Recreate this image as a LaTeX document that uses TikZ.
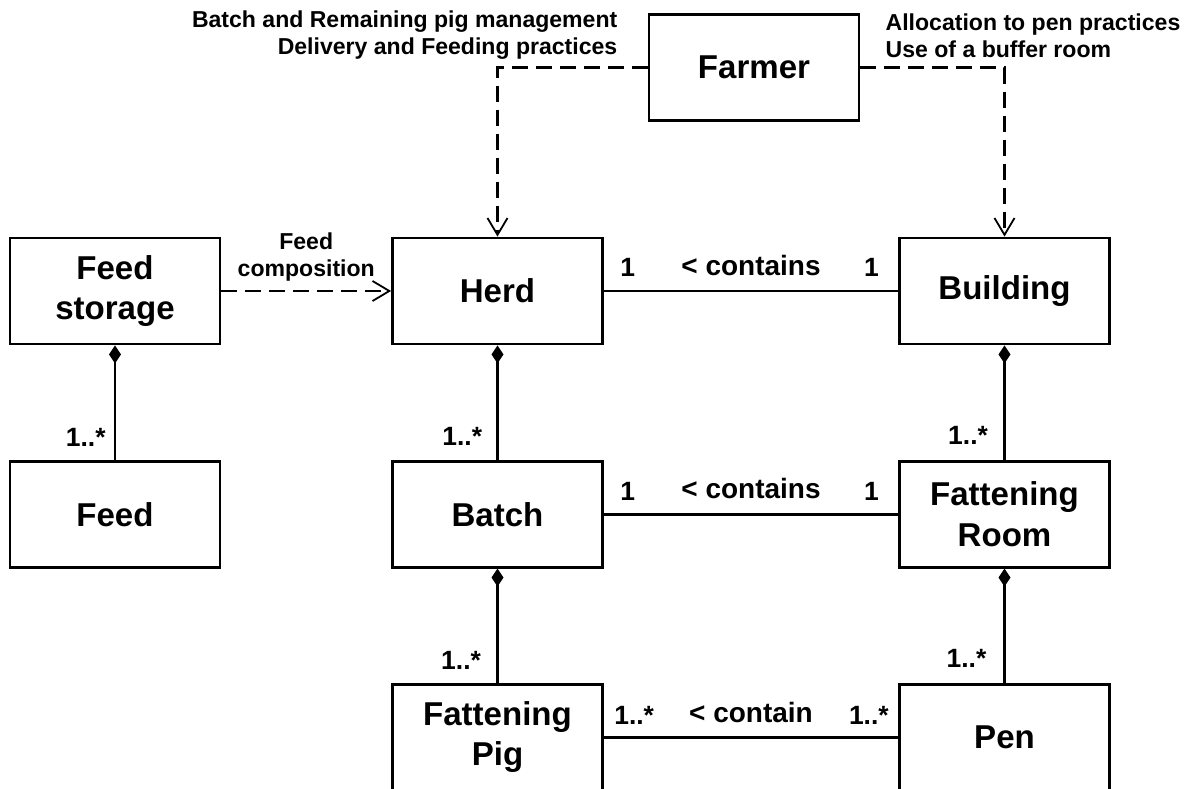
\documentclass[tikz,border=0pt]{standalone}
\usepackage{fontspec}
\setmainfont{Liberation Sans}
\usepackage{tikz}
\usetikzlibrary{arrows.meta}
\usetikzlibrary{calc}
\tikzstyle{classbox} = [rectangle, minimum width=5.25cm, minimum height=2.65cm, text centered, align=center, draw=black, line width=0.07cm, font=\bfseries\fontsize{23.5}{28.5}\selectfont]
\tikzstyle{note} = [inner sep=0pt, font=\bfseries\fontsize{16.4}{19.2}\selectfont]
\tikzstyle{mult} = [inner sep=0pt, font=\bfseries\fontsize{18.8}{22}\selectfont]
\tikzstyle{role} = [inner sep=0pt, font=\bfseries\fontsize{19.9}{24}\selectfont]
\tikzstyle{assoc} = [line width=0.07cm]
\tikzstyle{dep} = [line width=0.07cm, dash pattern=on 0.4cm off 0.2cm, -{Straight Barb[length=0.42cm,width=0.5cm,line width=0.045cm]}]
\tikzstyle{compo} = [line width=0.07cm, {Diamond[length=0.45cm,width=0.3cm]}-]

\begin{document}
\begin{tikzpicture}[node distance=5.58cm]
	\useasboundingbox (-12.4375,-12.45) rectangle (17.3625,7.275);
	\clip (-12.4375,-12.45) rectangle (17.3625,7.275);
	\node (herd) [classbox] {Herd};
	\node (farmer) [classbox, above of=herd, xshift=6.4125cm] {Farmer};
	\node (building) [classbox, right of=herd, xshift=7.095cm] {Building};
	\node (feedstore) [classbox, left of=herd, xshift=-3.9825cm] {Feed\\storage};
	\node (feed) [classbox, below of=feedstore] {Feed};
	\node (batch) [classbox, below of=herd] {Batch};
	\node (room) [classbox, below of=building] {Fattening\\Room};
	\node (pig) [classbox, below of=batch] {Fattening\\Pig};
	\node (pen) [classbox, below of=room] {Pen};
	\node (mgmtnote) [note, align=right, anchor=east] at ($(farmer.west)+(-0.75,0.81)$) {Batch and Remaining pig management\\Delivery and Feeding practices};
	\node (pennote) [note, align=left, anchor=west] at ($(farmer.east)+(0.625,0.81)$) {Allocation to pen practices\\Use of a buffer room};
	%lines
	\draw [dep] (farmer.west) -| (herd.north);
	\draw [dep] (farmer.east) -| (building.north);
	\draw [dep] (feedstore) -- node[note, above=0.2cm, align=center] {Feed\\composition} (herd);
	\draw [compo] (feedstore) -- node[mult, pos=1, anchor=base east, xshift=-0.2cm, yshift=0.33cm] {1..*} (feed);
	\draw [compo] (herd) -- node[mult, pos=1, anchor=base east, xshift=-0.35cm, yshift=0.35cm] {1..*} (batch);
	\draw [compo] (batch) -- node[mult, pos=1, anchor=base east, xshift=-0.38cm, yshift=0.35cm] {1..*} (pig);
	\draw [compo] (building) -- node[mult, pos=1, anchor=base east, xshift=-0.38cm, yshift=0.38cm] {1..*} (room);
	\draw [compo] (room) -- node[mult, pos=1, anchor=base east, xshift=-0.42cm, yshift=0.4cm] {1..*} (pen);
	\draw [assoc] (herd) -- node[role, above=0.35cm] {< contains} node[mult, pos=0, anchor=base west, xshift=0.375cm, yshift=0.35cm] {1} node[mult, pos=1, anchor=base east, xshift=-0.45cm, yshift=0.35cm] {1} (building);
	\draw [assoc] (batch) -- node[role, above=0.35cm] {< contains} node[mult, pos=0, anchor=base west, xshift=0.375cm, yshift=0.35cm] {1} node[mult, pos=1, anchor=base east, xshift=-0.45cm, yshift=0.35cm] {1} (room);
	\draw [assoc] (pig.east |- pen.west) -- node[role, above=0.325cm] {< contain} node[mult, pos=0, anchor=base west, xshift=0.225cm, yshift=0.325cm] {1..*} node[mult, pos=1, anchor=base east, xshift=-0.2cm, yshift=0.325cm] {1..*} (pen);
\end{tikzpicture}
\end{document}
